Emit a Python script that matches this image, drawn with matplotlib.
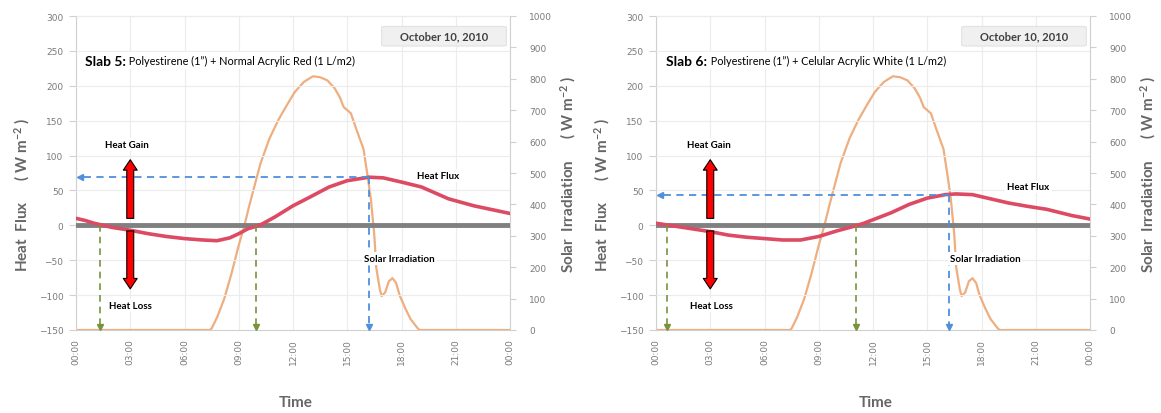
import matplotlib
matplotlib.use("Agg")
import matplotlib.pyplot as plt
from matplotlib.patches import FancyBboxPatch

# ---- data -------------------------------------------------------------
# Solar irradiation (W m-2) over the day, hours since midnight
solar_hours = [0, 3, 6, 7.4, 7.5, 7.8, 8.2, 8.6, 9.0, 9.3, 9.6, 10.2, 10.7, 11.2,
               11.7, 12.1, 12.6, 13.1, 13.5, 13.9, 14.3, 14.6, 14.8, 15.0, 15.2,
               15.5, 15.9, 16.1, 16.3, 16.5, 16.6, 16.8, 16.9, 17.1, 17.3, 17.5,
               17.7, 17.9, 18.2, 18.5, 18.9, 19.0, 21, 24]
solar_irr = [0, 0, 0, 0, 5, 40, 100, 180, 270, 330, 400, 530, 610, 670,
             720, 758, 790, 808, 805, 795, 770, 740, 710, 700, 690,
             640, 576, 500, 420, 300, 200, 130, 108, 120, 155, 165,
             150, 110, 70, 35, 5, 0, 0, 0]

# Heat flux through the slabs (W m-2)
flux5_hours = [0, 0.5, 1.0, 1.5, 2, 3, 4, 5, 6, 7, 7.8, 8.5, 9.0, 9.5, 10.0,
               10.3, 11, 12, 12.9, 14, 15, 16.2, 17, 18, 19.1, 20.6, 22, 24]
flux5 = [10, 7, 3, 0, -3, -7, -12, -16, -19, -21, -22, -18, -12, -5, -1,
         2, 12, 28, 40, 55, 64, 69, 68, 62, 55, 38, 28, 17]

flux6_hours = [0, 1, 2, 3, 4, 5, 6, 7, 8, 9, 10, 11, 11.5, 12, 13, 14, 15, 16,
               16.6, 17.5, 18.5, 19.5, 20.6, 21.6, 23, 24]
flux6 = [3, -1, -5, -9, -14, -17, -19, -21, -21, -16, -8, -1, 3, 8, 18, 30,
         39, 44, 45, 44, 38, 32, 27, 23, 14, 9]

# zero crossings of the flux and the time / value of its maximum
crossings5 = [1.35, 9.95]
crossings6 = [0.6, 11.05]
peak5 = (16.2, 69)
peak6 = (16.2, 44)

tick_hours = [0, 3, 6, 9, 12, 15, 18, 21, 24]
tick_labels = ["00:00", "03:00", "06:00", "09:00", "12:00", "15:00",
               "18:00", "21:00", "00:00"]

# ---- style ------------------------------------------------------------
FLUX_C = "#dc4a64"
SOLAR_C = "#eeae80"
GREEN_C = "#77933c"
BLUE_C = "#4f8fdc"
GRID_C = "#ececec"
SPINE_C = "#d0d0d0"
LABEL_C = "#666666"
TICK_C = "#7a7a7a"
TXT = "Lato"

plt.rcParams["mathtext.fontset"] = "custom"
plt.rcParams["mathtext.rm"] = "Lato"
plt.rcParams["mathtext.bf"] = "Lato:bold"

W, H = 1161, 414
fig = plt.figure(figsize=(W / 100, H / 100), dpi=100)


def draw_panel(left_px, t_flux, flux, slab, desc, crossings, peak, pos):
    rect = [left_px / W, 1 - 331 / H, 434 / W, 314 / H]
    ax2 = fig.add_axes(rect)
    ax = ax2.twinx()
    ax.yaxis.tick_left()
    ax.yaxis.set_label_position("left")
    ax2.yaxis.tick_right()
    ax2.yaxis.set_label_position("right")

    # solar irradiation on the right scale
    ax2.set_xlim(0, 24)
    ax2.set_ylim(0, 1000)
    ax2.set_yticks(range(0, 1001, 100))
    ax2.plot(solar_hours, solar_irr, color=SOLAR_C, lw=1.6, zorder=2)
    ax2.set_xticks(tick_hours)
    ax2.set_xticklabels(tick_labels, rotation=90, fontsize=6.5, color=TICK_C)
    ax2.tick_params(axis="x", length=0, pad=6)
    ax2.tick_params(axis="y", length=4, color=SPINE_C, labelsize=6.5,
                    labelcolor=TICK_C, pad=10)
    ax2.grid(True, axis="x", color=GRID_C, lw=0.8)
    for s in ax2.spines.values():
        s.set_color(SPINE_C)

    # heat flux on the left scale
    ax.set_xlim(0, 24)
    ax.set_ylim(-150, 300)
    ax.set_yticks(range(-150, 301, 50))
    ax.tick_params(axis="y", length=5, color=SPINE_C, labelsize=6.5,
                   labelcolor=TICK_C, pad=4)
    for yv in range(-100, 301, 50):
        ax.axhline(yv, color=GRID_C, lw=0.8, zorder=0)
    for s in ax.spines.values():
        s.set_visible(False)
    ax.axhline(0, color="#808080", lw=3.5, zorder=2)
    ax.plot(t_flux, flux, color=FLUX_C, lw=2.6, zorder=3)

    # green guides at the zero crossings
    for tc in crossings:
        ax.plot([tc, tc], [0, -146], ls=(0, (4, 3)), color=GREEN_C, lw=1.2,
                zorder=4)
        ax.plot([tc], [-145], marker="v", ms=4.5, color=GREEN_C, zorder=4)

    # blue guides at the maximum flux
    pt, pf = peak
    ax.plot([pt, pt], [pf, -146], ls=(0, (4, 3)), color=BLUE_C, lw=1.3, zorder=4)
    ax.plot([pt], [-145], marker="v", ms=4.5, color=BLUE_C, zorder=4)
    ax.plot([pt, 0.25], [pf, pf], ls=(0, (4, 3)), color=BLUE_C, lw=1.3, zorder=4)
    ax.plot([0.22], [pf], marker="<", ms=4.5, color=BLUE_C, zorder=4)

    # gain / loss arrows
    arrow_style = "simple,head_length=0.75,head_width=1.0,tail_width=0.5"
    ax.annotate("", xy=(3.0, 98), xytext=(3.0, 6),
                arrowprops=dict(arrowstyle=arrow_style, fc="#ff0000",
                                ec="black", lw=0.8, mutation_scale=10),
                zorder=5)
    ax.annotate("", xy=(3.0, -95), xytext=(3.0, -4),
                arrowprops=dict(arrowstyle=arrow_style, fc="#ff0000",
                                ec="black", lw=0.8, mutation_scale=10),
                zorder=5)

    box = dict(facecolor="white", edgecolor="none", pad=1.5)
    for key, label in (("gain", "Heat Gain"), ("loss", "Heat Loss"),
                       ("flux", "Heat Flux"), ("solar", "Solar Irradiation")):
        ax.text(pos[key][0], pos[key][1], label, fontsize=7,
                fontweight="bold", family=TXT, ha="center", va="center",
                bbox=box, zorder=6)

    # slab description
    t = ax.text(pos["title"][0], pos["title"][1], slab, fontsize=10,
                fontweight="bold", family=TXT, ha="left", va="center",
                bbox=dict(facecolor="white", edgecolor="none", pad=2), zorder=6.5)
    ax.annotate(" " + desc, xy=(1, 0.5), xycoords=t, fontsize=7.8,
                family=TXT, ha="left", va="center",
                bbox=dict(facecolor="white", edgecolor="none", pad=2), zorder=6)

    # date box
    ax.add_patch(FancyBboxPatch((16.9, 257), 6.9, 28,
                                boxstyle="round,pad=0,rounding_size=0.3",
                                fc="#f0f0f0", ec="#e2e2e2", lw=0.8, zorder=5,
                                mutation_aspect=4))
    ax.text(20.35, 271, "October 10, 2010", fontsize=8, fontweight="bold",
            family=TXT, color="#404040", ha="center", va="center", zorder=6)

    # axis titles
    cx = left_px
    fig.text((cx - 54) / W, 1 - 195 / H,
             "Heat  Flux      ( W m$\\mathbf{^{-2}}$ )",
             rotation=90, ha="center", va="center", fontsize=11,
             fontweight="bold", color=LABEL_C, family=TXT)
    fig.text((cx + 492) / W, 1 - 174 / H,
             "Solar  Irradiation      ( W m$\\mathbf{^{-2}}$ )",
             rotation=90, ha="center", va="center", fontsize=11,
             fontweight="bold", color=LABEL_C, family=TXT)
    fig.text((cx + 220) / W, 1 - 403 / H, "Time", ha="center", va="center",
             fontsize=11, fontweight="bold", color=LABEL_C, family=TXT)
    return ax


draw_panel(76, flux5_hours, flux5, "Slab 5:",
           "Polyestirene (1\u201d) + Normal Acrylic Red (1 L/m2)",
           crossings5, peak5,
           dict(gain=(2.82, 116), loss=(3.0, -115), flux=(20.0, 72),
                solar=(17.9, -48), title=(0.5, 236)))

draw_panel(656, flux6_hours, flux6, "Slab 6:",
           "Polyestirene (1\u201d) + Celular Acrylic White (1 L/m2)",
           crossings6, peak6,
           dict(gain=(2.9, 116), loss=(3.05, -115), flux=(20.6, 55),
                solar=(18.2, -48), title=(0.58, 236)))

fig.savefig("out.png", dpi=100)
